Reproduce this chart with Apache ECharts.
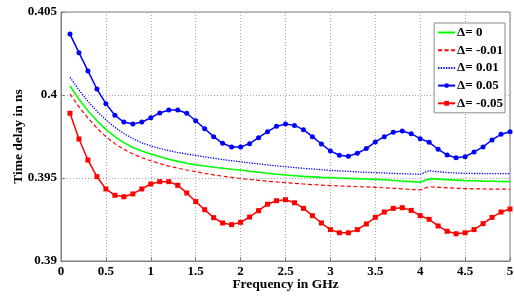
<!DOCTYPE html>
<html>
<head>
<meta charset="utf-8">
<script src="https://cdn.jsdelivr.net/npm/echarts@6/dist/echarts.min.js"></script>
<style>html,body{margin:0;padding:0;background:#fff;}#c{width:514px;height:298px;}</style>
</head>
<body>
<div id="c"></div>
<script>
var freq = [0.1,0.2,0.3,0.4,0.5,0.6,0.7,0.8,0.9,1.0,1.1,1.2,1.3,1.4,1.5,1.6,1.7,1.8,1.9,2.0,2.1,2.2,2.3,2.4,2.5,2.6,2.7,2.8,2.9,3.0,3.1,3.2,3.3,3.4,3.5,3.6,3.7,3.8,3.9,4.0,4.1,4.2,4.3,4.4,4.5,4.6,4.7,4.8,4.9,5.0];
var delta0 = [0.40054,0.39975,0.39905,0.39845,0.39793,0.39749,0.39713,0.39684,0.39662,0.39645,0.39628,0.39613,0.39600,0.39589,0.39580,0.39572,0.39565,0.39559,0.39553,0.39548,0.39541,0.39535,0.39529,0.39523,0.39518,0.39514,0.39510,0.39507,0.39504,0.39502,0.39500,0.39498,0.39496,0.39494,0.39492,0.39489,0.39485,0.39482,0.39478,0.39474,0.39496,0.39493,0.39490,0.39487,0.39484,0.39483,0.39481,0.39480,0.39479,0.39478];
var deltaM001 = [0.40006,0.39929,0.39861,0.39801,0.39749,0.39707,0.39673,0.39645,0.39622,0.39604,0.39587,0.39572,0.39559,0.39548,0.39538,0.39528,0.39519,0.39511,0.39504,0.39497,0.39491,0.39486,0.39481,0.39476,0.39472,0.39468,0.39464,0.39460,0.39457,0.39454,0.39452,0.39450,0.39448,0.39446,0.39444,0.39441,0.39438,0.39435,0.39431,0.39428,0.39448,0.39444,0.39441,0.39438,0.39436,0.39435,0.39434,0.39433,0.39433,0.39432];
var deltaP001 = [0.40107,0.40030,0.39962,0.39902,0.39850,0.39805,0.39768,0.39737,0.39712,0.39693,0.39678,0.39665,0.39654,0.39644,0.39636,0.39627,0.39619,0.39611,0.39604,0.39598,0.39591,0.39585,0.39579,0.39573,0.39568,0.39563,0.39558,0.39554,0.39550,0.39546,0.39543,0.39540,0.39537,0.39534,0.39532,0.39530,0.39528,0.39526,0.39524,0.39522,0.39544,0.39538,0.39533,0.39530,0.39528,0.39527,0.39527,0.39526,0.39526,0.39526];
var deltaP005 = [0.40367,0.40255,0.40145,0.40036,0.39948,0.39878,0.39837,0.39825,0.39837,0.39863,0.39892,0.39910,0.39910,0.39890,0.39845,0.39797,0.39749,0.39709,0.39687,0.39687,0.39707,0.39743,0.39779,0.39811,0.39825,0.39817,0.39791,0.39749,0.39705,0.39663,0.39637,0.39631,0.39649,0.39677,0.39717,0.39749,0.39775,0.39783,0.39767,0.39737,0.39715,0.39673,0.39639,0.39622,0.39628,0.39657,0.39687,0.39729,0.39763,0.39779];
var deltaM005 = [0.39890,0.39735,0.39608,0.39508,0.39434,0.39396,0.39387,0.39404,0.39434,0.39464,0.39478,0.39478,0.39456,0.39410,0.39358,0.39309,0.39261,0.39229,0.39219,0.39233,0.39265,0.39303,0.39342,0.39363,0.39369,0.39351,0.39317,0.39273,0.39229,0.39189,0.39170,0.39170,0.39189,0.39223,0.39263,0.39295,0.39317,0.39321,0.39305,0.39273,0.39251,0.39211,0.39179,0.39164,0.39170,0.39189,0.39225,0.39263,0.39295,0.39313];
var seriesNames = ['Δ= 0','Δ= -0.01','Δ= 0.01','Δ= 0.05','Δ= -0.05'];
var xTicks = [0,0.5,1,1.5,2,2.5,3,3.5,4,4.5,5];
var yTicks = [0.39,0.395,0.4,0.405];

function pairs(ys){ return freq.map(function(f,i){ return [f, ys[i]]; }); }
var font = '"Liberation Serif", "Times New Roman", serif';
var chart = echarts.init(document.getElementById('c'), null, {renderer:'canvas'});
var axisCommon = {
  axisLine:{show:true, lineStyle:{color:'#7f7f7f', width:1}},
  axisTick:{show:true, inside:true, length:4, lineStyle:{color:'#7f7f7f'}},
  splitLine:{show:true, lineStyle:{color:'#a8a8a8', type:[1,2], width:1}}
};
var hideSym = {color:'rgba(0,0,0,0)', borderWidth:0, opacity:0};
chart.setOption({
  animation:false,
  backgroundColor:'#fff',
  grid:{left:61, right:4, top:12, bottom:37, show:true, borderColor:'#7f7f7f', borderWidth:1, containLabel:false, outerBoundsMode:'none'},
  legend:{
    orient:'vertical', right:9, top:23,
    backgroundColor:'#fff', borderColor:'#8c8c8c', borderWidth:1,
    padding:[3,2,3,3], itemGap:4.7, itemWidth:17, itemHeight:6,
    textStyle:{fontFamily:font, fontWeight:'bold', fontSize:13, color:'#000', lineHeight:12, padding:[0,0,0,-3]},
    data:[
      {name:seriesNames[0], itemStyle:hideSym},
      {name:seriesNames[1], itemStyle:hideSym},
      {name:seriesNames[2], itemStyle:hideSym},
      {name:seriesNames[3]},
      {name:seriesNames[4]}
    ]
  },
  xAxis:Object.assign({
    type:'value', min:0, max:5, interval:0.5,
    name:'Frequency in GHz', nameLocation:'middle', nameGap:17, nameMoveOverlap:false,
    nameTextStyle:{fontFamily:font, fontWeight:'bold', fontSize:13.5, color:'#000'},
    axisLabel:{fontFamily:font, fontWeight:'bold', fontSize:13, color:'#000', margin:4,
      formatter:function(v){ return String(+v.toFixed(2)); }}
  }, axisCommon),
  yAxis:Object.assign({
    type:'value', min:0.39, max:0.405, interval:0.005,
    name:'Time delay in ns', nameLocation:'middle', nameGap:35, nameRotate:90, nameMoveOverlap:false,
    nameTextStyle:{fontFamily:font, fontWeight:'bold', fontSize:13.5, color:'#000'},
    axisLabel:{fontFamily:font, fontWeight:'bold', fontSize:13, color:'#000', margin:4,
      formatter:function(v){ return String(+v.toFixed(4)); }}
  }, axisCommon),
  series:[
    {name:seriesNames[0], type:'line', data:pairs(delta0), showSymbol:false, symbol:'none', color:'#00ff00', lineStyle:{color:'#00ff00', width:1.6}},
    {name:seriesNames[1], type:'line', data:pairs(deltaM001), showSymbol:false, symbol:'none', color:'#ff0000', lineStyle:{color:'#ff0000', width:1.2, type:[4,2.5]}},
    {name:seriesNames[2], type:'line', data:pairs(deltaP001), showSymbol:false, symbol:'none', color:'#0000ff', lineStyle:{color:'#0000ff', width:1.3, type:[1.3,1.3]}},
    {name:seriesNames[3], type:'line', data:pairs(deltaP005), symbol:'circle', symbolSize:5, color:'#0000ff', lineStyle:{color:'#0000ff', width:1.5}, itemStyle:{color:'#0000ff'}},
    {name:seriesNames[4], type:'line', data:pairs(deltaM005), symbol:'rect', symbolSize:5, color:'#ff0000', lineStyle:{color:'#ff0000', width:1.5}, itemStyle:{color:'#ff0000'}}
  ]
});
</script>
</body>
</html>
